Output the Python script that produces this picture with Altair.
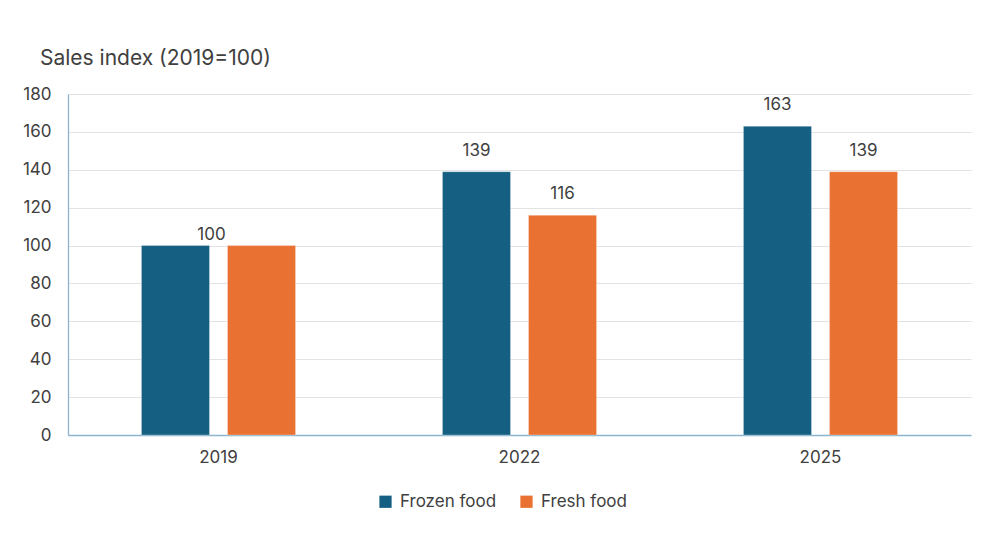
import altair as alt
import pandas as pd

years = ["2019", "2022", "2025"]
series = ["Frozen food", "Fresh food"]
frozen = [100, 139, 163]
fresh = [100, 116, 139]
colors = ["#156082", "#E97132"]
y_ticks = [0, 20, 40, 60, 80, 100, 120, 140, 160, 180]

rows = []
for i, y in enumerate(years):
    rows.append({"year": y, "series": series[0], "value": frozen[i]})
    rows.append({"year": y, "series": series[1], "value": fresh[i]})
df = pd.DataFrame(rows)

# 2019: both series equal -> a single shared label
lab_pair = df[df["year"] != "2019"]
lab_single = pd.DataFrame({"year": ["2019"], "value": [frozen[0]]})

FONT = "Inter"
TXT = "#404040"
FS = 17

x_enc = alt.X("year:N", sort=years, title=None,
              scale=alt.Scale(paddingInner=0.488, paddingOuter=0.244),
              axis=alt.Axis(labelAngle=0, labelFontSize=FS, labelColor=TXT, labelFont=FONT,
                            labelPadding=14, ticks=False, domainColor="#8DB3CE",
                            domainWidth=1.3, grid=False))
y_enc = alt.Y("value:Q", title=None,
              scale=alt.Scale(domain=[0, 180], nice=False),
              axis=alt.Axis(values=y_ticks, labelFontSize=FS, labelColor=TXT, labelFont=FONT,
                            labelPadding=17, ticks=False, domainColor="#8DB3CE",
                            labelOverlap=False,
                            domainWidth=1.3, gridColor="#E3E3E3", gridWidth=1))
off_enc = alt.XOffset("series:N", sort=series,
                      scale=alt.Scale(paddingInner=0.209, paddingOuter=0))
color_enc = alt.Color("series:N", sort=series,
                      scale=alt.Scale(domain=series, range=colors),
                      legend=alt.Legend(title=None, orient="none", direction="horizontal",
                                        legendX=309, legendY=399, symbolType="square",
                                        symbolSize=150, symbolStrokeWidth=0,
                                        labelFontSize=FS, labelColor=TXT, labelFont=FONT,
                                        columnPadding=21, symbolOffset=0, labelOffset=6))

bars = alt.Chart(df).mark_bar(stroke="#ffffff", strokeWidth=0.6, strokeOpacity=0.5).encode(
    x=x_enc, y=y_enc, xOffset=off_enc, color=color_enc)

labels = alt.Chart(lab_pair).mark_text(baseline="bottom", dy=-12, fontSize=FS,
                                        font=FONT, color=TXT).encode(
    x=x_enc, y=y_enc, xOffset=off_enc, text="value:Q")

label_single = alt.Chart(lab_single).mark_text(baseline="bottom", dy=-2, dx=-7, fontSize=FS,
                                                font=FONT, color=TXT).encode(
    x=x_enc, y=y_enc, text="value:Q")

chart = alt.layer(bars, labels, label_single).properties(
    width=903, height=341,
    background="#ffffff",
    title=alt.TitleParams("Sales index (2019=100)", anchor="start", frame="group",
                          dx=-28, offset=16, fontSize=21, fontWeight="normal",
                          font=FONT, color=TXT),
    autosize=alt.AutoSizeParams(type="none"),
    padding={"left": 60, "top": 86, "right": 13, "bottom": 120},
).configure_view(stroke=None)

chart.save("out.html", embed_options={"renderer": "svg", "actions": False})
